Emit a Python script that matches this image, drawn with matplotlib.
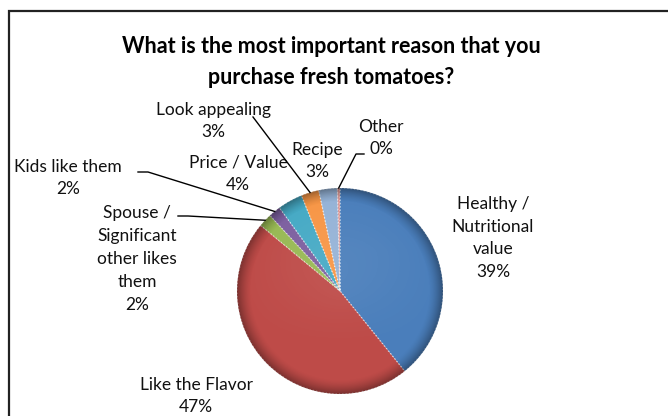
import matplotlib.pyplot as plt
import numpy as np
from matplotlib.patches import Circle, Rectangle

# survey answers, percent of respondents
reasons = ['Healthy /\nNutritional\nvalue', 'Like the Flavor', 'Spouse /\nSignificant\nother likes\nthem',
           'Kids like them', 'Price / Value', 'Look appealing', 'Recipe', 'Other']
shares = [39.2, 46.8, 2.1, 1.9, 3.9, 2.8, 2.9, 0.4]
colors = ['#4A7EBB', '#BE4B48', '#98B954', '#7D60A0', '#46AAC5', '#F79646', '#95B3D7', '#D99694']

plt.rcParams['font.family'] = ['Lato', 'DejaVu Sans']

W, H = 668, 416
fig = plt.figure(figsize=(W / 100, H / 100), dpi=100)
ax = fig.add_axes([0, 0, 1, 1])

def Y(y):
    # y measured from the top edge
    return H - y

cx, cy, R = 340, Y(291), 103

# chart frame
ax.add_patch(Rectangle((9, -5), W, Y(10.5) + 5, fill=False, ec='#222222', lw=1.6))

wedges, _ = ax.pie(shares, colors=colors, startangle=90, counterclock=False,
                   center=(cx, cy), radius=R, frame=True,
                   wedgeprops=dict(edgecolor=(1, 1, 1, 0.6), linewidth=0.9, linestyle=':'))
ax.set_xlim(0, W)
ax.set_ylim(0, H)
ax.axis('off')

# soft bevel shading over the pie
n = 400
gx, gy = np.meshgrid(np.linspace(-1, 1, n), np.linspace(-1, 1, n))
r = np.hypot(gx, gy)
shade = np.zeros((n, n, 4))
rim = np.clip((r - 0.86) / 0.14, 0, 1) ** 1.5
shade[..., 3] = 0.35 * rim
light = np.clip(1 - r, 0, 1) * 0.10 * np.clip(gy + 0.6, 0, 1)
shade[..., :3] = np.where(light[..., None] > rim[..., None] * 0.35, 1.0, 0.0)
shade[..., 3] = np.maximum(shade[..., 3], light)
im = ax.imshow(shade, extent=(cx - R, cx + R, cy - R, cy + R), origin='lower', zorder=3)
im.set_clip_path(Circle((cx, cy), R, transform=ax.transData))

def edge_point(i, k=1.0):
    w = wedges[i]
    a = np.deg2rad((w.theta1 + w.theta2) / 2)
    return cx + k * R * np.cos(a), cy + k * R * np.sin(a)

txt = dict(ha='center', va='center', fontsize=12.5, linespacing=1.52, color='#111111')

# label text: category and rounded share
labels = ['%s\n%d%%' % (name, round(v)) for name, v in zip(reasons, shares)]
label_pos = [(493, 238), (196, 396), (137, 259), (68, 178), (238, 174), (213, 121), (317, 161), (381, 138)]
for lab, (lx, ly) in zip(labels, label_pos):
    ax.text(lx, Y(ly), lab, **txt)

# leader lines
line = dict(color='black', lw=1.0, zorder=4)
px, py = edge_point(3)
ax.plot([138, 148, px], [Y(172), Y(172), py], **line)
px, py = edge_point(2)
ax.plot([178, 188, px], [Y(216), Y(216), py], **line)
px, py = edge_point(5)
ax.plot([253, px], [Y(117), py], **line)
px, py = edge_point(7)
ax.plot([px, 356, 364], [py, Y(154), Y(154)], **line)

ax.text(331, Y(62), 'What is the most important reason that you\npurchase fresh tomatoes?',
        ha='center', va='center', fontsize=15.5, fontweight='bold', linespacing=1.62)

fig.savefig('out.png', dpi=100)
